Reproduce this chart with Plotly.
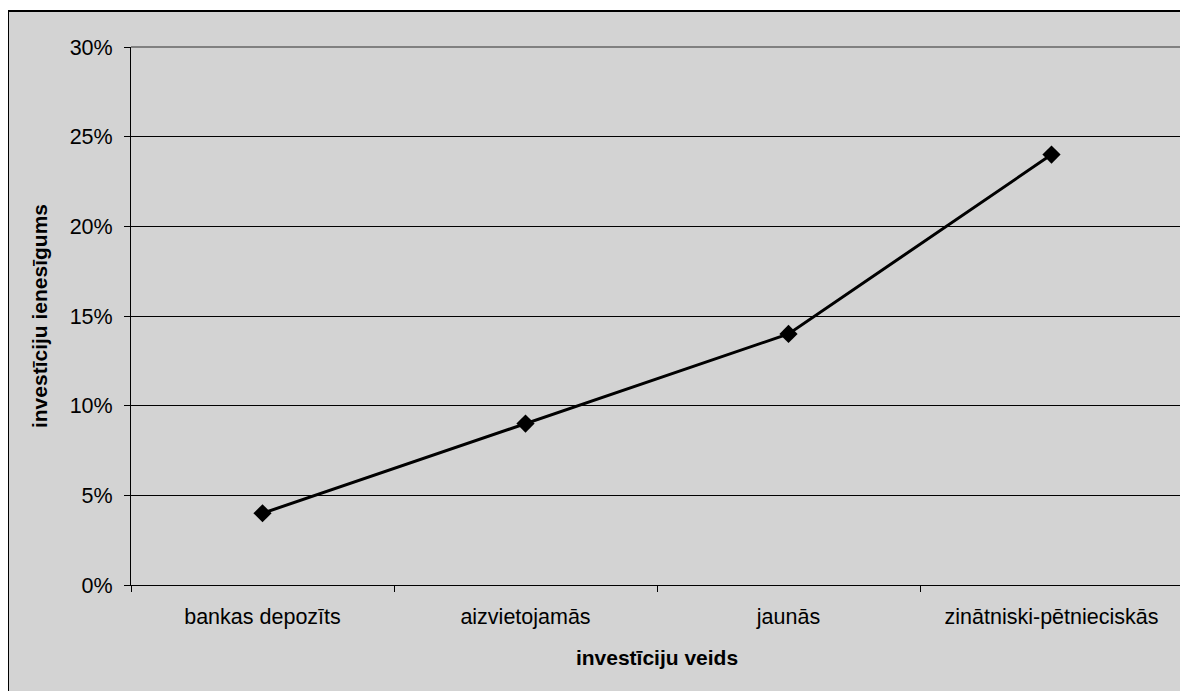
import plotly.graph_objects as go

categories = ["bankas depozīts", "aizvietojamās", "jaunās", "zinātniski-pētnieciskās"]
returns = [0.04, 0.09, 0.14, 0.24]

OFF = 8  # page body margin
W, H = 1188 - OFF, 691 - OFF
L, T = 131 - OFF, 47 - OFF
R = W - (1183 - OFF)
B = H - (585 - OFF)
pw, ph = W - L - R, H - T - B

def px_x(p):
    return (p - OFF - L) / pw

def px_y(p):
    return 1 - (p - OFF - T) / ph

fig = go.Figure()
fig.add_trace(go.Scatter(
    x=categories, y=returns, mode="lines+markers",
    line=dict(color="black", width=3),
    marker=dict(symbol="diamond", size=14, color="black"),
    showlegend=False, cliponaxis=False,
))

font = "Liberation Sans, Arial, sans-serif"
fig.update_layout(
    width=W, height=H,
    margin=dict(l=L, r=R, t=T, b=B),
    paper_bgcolor="white",
    plot_bgcolor="rgba(0,0,0,0)",
    font=dict(family=font, size=21, color="black"),
    xaxis=dict(
        type="category", range=[-0.5, 3.5],
        tickson="boundaries", ticks="outside", ticklen=6, tickcolor="black",
        ticklabelstandoff=12,
        showgrid=False, showline=True, linecolor="black", linewidth=1,
        title=dict(text="<b>investīciju veids</b>", font=dict(size=21), standoff=22),
        tickfont=dict(size=21.5),
    ),
    yaxis=dict(
        range=[0, 0.30], dtick=0.05, tickformat=".0%",
        ticks="outside", ticklen=6, tickcolor="black",
        ticklabelstandoff=7,
        showgrid=True, gridcolor="black", gridwidth=1,
        zeroline=False,
        showline=True, linecolor="black", linewidth=1,
        title=dict(text="<b>investīciju ienesīgums</b>", font=dict(size=21), standoff=16),
        tickfont=dict(size=21.5),
    ),
    shapes=[
        dict(type="rect", xref="paper", yref="paper",
             x0=px_x(8), x1=px_x(1200), y0=px_y(11), y1=px_y(710),
             line=dict(color="black", width=2), fillcolor="#D3D3D3", layer="below"),
        dict(type="line", xref="paper", yref="paper",
             x0=0, x1=1, y0=1, y1=1,
             line=dict(color="#808080", width=2), layer="above"),
        dict(type="line", xref="paper", yref="paper",
             x0=1, x1=1, y0=0, y1=1,
             line=dict(color="#808080", width=2), layer="above"),
    ],
)

fig.write_html("out.html")
